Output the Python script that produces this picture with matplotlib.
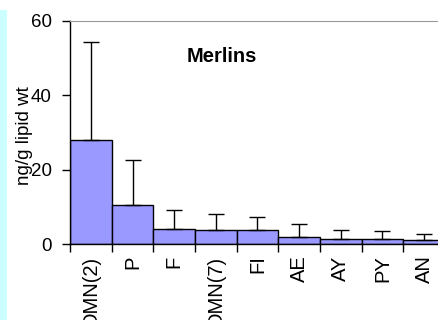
import matplotlib
matplotlib.use("Agg")
import matplotlib.pyplot as plt

plt.rcParams['font.family'] = ['Liberation Sans', 'DejaVu Sans']

# data
labels = ['DMN(2)', 'P', 'F', 'DMN(7)', 'FI', 'AE', 'AY', 'PY', 'AN']
means = [28.0, 10.5, 4.1, 3.8, 3.8, 1.9, 1.4, 1.4, 1.1]
errors = [26.4, 12.0, 5.2, 4.4, 3.5, 3.5, 2.4, 2.2, 1.6]

fig = plt.figure(figsize=(4.38, 3.20), dpi=100)

# light cyan strip on the left edge
strip = fig.add_axes([0, 0, 7 / 438, 310 / 320])
strip.set_facecolor('#ccffff')
strip.set_xticks([])
strip.set_yticks([])
for s in strip.spines.values():
    s.set_visible(False)

ax = fig.add_axes([70 / 438, 1 - 244.3 / 320, 375 / 438, 223.6 / 320])
x = list(range(len(labels)))
ax.bar(x, means, width=1.0, color='#9999ff', edgecolor='black', linewidth=1.0,
       yerr=[[0] * len(errors), errors], error_kw=dict(ecolor='black', elinewidth=1.0,
                                                      capsize=5.5, capthick=1.0))

ax.set_xlim(-0.5, len(labels) - 0.5)
ax.set_ylim(0, 60)
ax.set_yticks([0, 20, 40, 60])
ax.tick_params(axis='y', direction='out', length=6, width=1, labelsize=13.5, pad=7)

# category ticks sit between the bars
ax.set_xticks([i - 0.5 for i in x], minor=False)
ax.set_xticklabels([])
ax.tick_params(axis='x', which='major', direction='out', length=6, width=1)
ax.set_xticks(x, minor=True)
ax.set_xticklabels(labels, minor=True, rotation=90, fontsize=14.5)
ax.tick_params(axis='x', which='minor', length=0, pad=8)

ax.spines['right'].set_visible(False)
ax.spines['top'].set_color('#999999')
ax.spines['left'].set_linewidth(1.0)
ax.spines['bottom'].set_linewidth(1.0)

ax.set_ylabel('ng/g lipid wt', fontsize=13.5)
ax.yaxis.set_label_coords(-0.099, 0.484)

ax.text(0.405, 0.838, 'Merlins', transform=ax.transAxes, fontsize=14.5,
        fontweight='bold', ha='center', va='center')

fig.savefig('out.png', dpi=100)
